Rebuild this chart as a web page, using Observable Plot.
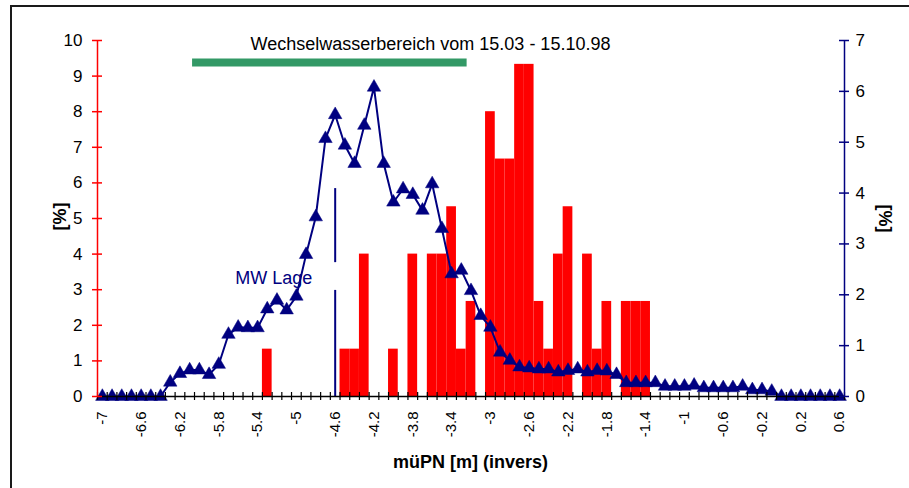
<!DOCTYPE html>
<html>
<head>
<meta charset="utf-8">
<script src="https://cdn.jsdelivr.net/npm/d3@7"></script>
<script src="https://cdn.jsdelivr.net/npm/@observablehq/plot@0.6"></script>
<style>
  html, body { margin: 0; padding: 0; background: #fff; overflow: hidden; }
  #wrap { position: relative; width: 909px; height: 488px; }
  #frame { position: absolute; left: 10px; top: 5px; width: 1000px; height: 1000px;
           border: 2px solid #1a1a1a; pointer-events: none; }
  svg { font-family: "Liberation Sans", Arial, sans-serif; }
</style>
</head>
<body>
<div id="wrap"><div id="frame"></div></div>
<script>
// ---------- data ----------
// x categories (müPN [m], step 0.1)
const xCategories = [
  -7.0,-6.9,-6.8,-6.7,-6.6,-6.5,-6.4,-6.3,-6.2,-6.1,
  -6.0,-5.9,-5.8,-5.7,-5.6,-5.5,-5.4,-5.3,-5.2,-5.1,
  -5.0,-4.9,-4.8,-4.7,-4.6,-4.5,-4.4,-4.3,-4.2,-4.1,
  -4.0,-3.9,-3.8,-3.7,-3.6,-3.5,-3.4,-3.3,-3.2,-3.1,
  -3.0,-2.9,-2.8,-2.7,-2.6,-2.5,-2.4,-2.3,-2.2,-2.1,
  -2.0,-1.9,-1.8,-1.7,-1.6,-1.5,-1.4,-1.3,-1.2,-1.1,
  -1.0,-0.9,-0.8,-0.7,-0.6,-0.5,-0.4,-0.3,-0.2,-0.1,
   0.0, 0.1, 0.2, 0.3, 0.4, 0.5, 0.6
];
// line series (right axis, %)
const lineValues = [
  0,0,0,0,0,0,0,0.28,0.45,0.52,
  0.52,0.43,0.63,1.22,1.36,1.35,1.35,1.72,1.89,1.70,
  1.97,2.79,3.53,5.07,5.54,4.94,4.58,5.33,6.08,4.58,
  3.82,4.08,3.97,3.66,4.18,3.30,2.41,2.48,2.08,1.59,
  1.36,0.87,0.71,0.58,0.56,0.54,0.54,0.48,0.51,0.54,
  0.48,0.51,0.50,0.43,0.27,0.27,0.27,0.27,0.20,0.20,
  0.20,0.22,0.17,0.17,0.17,0.17,0.20,0.13,0.13,0.10,
  0,0,0,0,0,0,0
];
// bar series (left axis, %)
const barCategories = [-5.3,-4.5,-4.4,-4.3,-4.0,-3.8,-3.6,-3.5,-3.4,-3.3,-3.2,
  -3.0,-2.9,-2.8,-2.7,-2.6,-2.5,-2.4,-2.3,-2.2,-2.0,-1.9,-1.8,-1.6,-1.5,-1.4];
const barValues = [1.33,1.33,1.33,4,1.33,4,4,4,5.33,1.33,2.67,
  8,6.67,6.67,9.33,9.33,2.67,1.33,4,5.33,4,1.33,2.67,2.67,2.67,2.67];
const xTickLabels = [-7,-6.6,-6.2,-5.8,-5.4,-5,-4.6,-4.2,-3.8,-3.4,-3,-2.6,-2.2,-1.8,-1.4,-1,-0.6,-0.2,0.2,0.6];
const leftTicks = [0,1,2,3,4,5,6,7,8,9,10];
const rightTicks = [0,1,2,3,4,5,6,7];
const mwPosition = -4.6;
const wwRange = [-6.07, -3.24];
const wwLevel = 9.38;
const titleText = "Wechselwasserbereich vom 15.03 - 15.10.98";
const xTitle = "müPN [m] (invers)";
const yTitle = "[%]";
const mwLabel = "MW Lage";

// ---------- derived tables ----------
const lineData = xCategories.map((x, i) => ({x, v: lineValues[i]}));
const bars = barCategories.map((x, i) => ({x, v: barValues[i]}));
const xMin = xCategories[0] - 0.05, xMax = xCategories[xCategories.length - 1] + 0.05;
const boundaries = xCategories.map(x => x - 0.05).concat([xMax]);
const rScale = 10 / 7; // right axis (0–7) onto left axis (0–10)

const NAVY = "#000080", RED = "#ff0000", GREEN = "#339966";

const chart = Plot.plot({
  width: 909, height: 488,
  marginLeft: 97, marginRight: 65, marginTop: 40, marginBottom: 92,
  x: {domain: [xMin, xMax]},
  y: {domain: [0, 10]},
  style: {fontFamily: "'Liberation Sans', Arial, sans-serif", color: "black", background: "transparent", overflow: "visible"},
  marks: [
    Plot.rectY(bars, {x1: d => d.x - 0.05, x2: d => d.x + 0.05, y1: 0, y2: "v", fill: RED}),
    Plot.ruleY([wwLevel], {x1: wwRange[0], x2: wwRange[1], y: d => d, stroke: GREEN, strokeWidth: 8}),
    Plot.ruleX([mwPosition], {y1: 0, y2: 2.98, stroke: NAVY, strokeWidth: 2}),
    Plot.ruleX([mwPosition], {y1: 3.76, y2: 5.84, stroke: NAVY, strokeWidth: 2}),
    Plot.text([mwLabel], {x: () => mwPosition, frameAnchor: "bottom", dy: -118, dx: -23,
      textAnchor: "end", lineAnchor: "middle", fill: NAVY, fontSize: 18}),
    Plot.line(lineData, {x: "x", y: d => d.v * rScale, stroke: NAVY, strokeWidth: 2}),
    Plot.dot(lineData, {x: "x", y: d => d.v * rScale, symbol: "triangle", r: 5, fill: NAVY, stroke: NAVY, strokeWidth: 0.5}),
    // x axis
    Plot.ruleY([0], {stroke: "black", strokeWidth: 1.5}),
    Plot.ruleX(boundaries, {y1: 0, y2: 0, insetTop: -4, insetBottom: -4, stroke: "black", strokeWidth: 1.2}),
    Plot.axisX({ticks: xTickLabels, tickSize: 0, tickPadding: 15, tickRotate: -90,
      tickFormat: d => String(d), label: null, fontSize: 15}),
    // left axis
    Plot.ruleX([xMin], {stroke: RED, strokeWidth: 1.5}),
    Plot.ruleY(leftTicks, {x1: xMin, x2: xMin, insetLeft: -5, insetRight: -5, stroke: RED, strokeWidth: 1.5}),
    Plot.axisY({ticks: leftTicks, tickSize: 0, tickPadding: 15, label: null, fontSize: 17, tickFormat: d => String(d)}),
    // right axis
    Plot.ruleX([xMax], {stroke: NAVY, strokeWidth: 1.5}),
    Plot.ruleY(rightTicks, {y: d => d * rScale, x1: xMax, x2: xMax, insetLeft: -5, insetRight: -5, stroke: NAVY, strokeWidth: 1.5}),
    Plot.axisY({anchor: "right", ticks: rightTicks.map(d => d * rScale), tickSize: 0, tickPadding: 11,
      tickFormat: d => String(Math.round(d / rScale)), label: null, fontSize: 17}),
    // titles
    Plot.text([titleText], {frameAnchor: "top-left", dx: 333, dy: 4, textAnchor: "middle", lineAnchor: "middle", fontSize: 18}),
    Plot.text([yTitle], {frameAnchor: "top-left", dx: -37, dy: 176, rotate: -90, textAnchor: "middle", lineAnchor: "middle",
      fontSize: 18, fontWeight: "bold"}),
    Plot.text([yTitle], {frameAnchor: "top-right", dx: 40, dy: 178, rotate: 90, textAnchor: "middle", lineAnchor: "middle",
      fontSize: 18, fontWeight: "bold"}),
    Plot.text([xTitle], {frameAnchor: "bottom-left", dx: 373, dy: 66, textAnchor: "middle", lineAnchor: "middle",
      fontSize: 18, fontWeight: "bold"})
  ]
});
document.getElementById("wrap").prepend(chart);
</script>
</body>
</html>
